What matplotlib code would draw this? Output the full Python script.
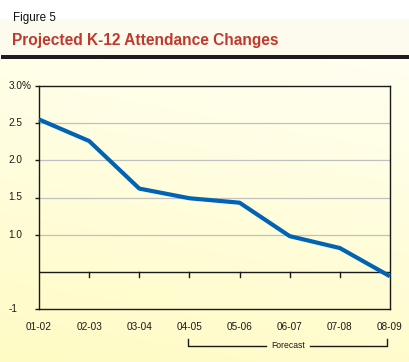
import numpy as np
import matplotlib
matplotlib.use("Agg")
import matplotlib.pyplot as plt
from matplotlib.patches import Rectangle
from matplotlib.transforms import blended_transform_factory

plt.rcParams['font.family'] = ['Liberation Sans', 'DejaVu Sans']

# Datos
years = ['01-02', '02-03', '03-04', '04-05', '05-06', '06-07', '07-08', '08-09']
changes = [2.55, 2.26, 1.62, 1.49, 1.43, 0.98, 0.82, 0.44]
ytick_vals = [0.0, 1.0, 1.5, 2.0, 2.5, 3.0]
ytick_labels = ['-1', '1.0', '1.5', '2.0', '2.5', '3.0%']
grid_vals = [1.0, 1.5, 2.0, 2.5]
zero_line = 0.5
forecast_from = '04-05'
forecast_to = '08-09'

W, H = 410, 362
fig = plt.figure(figsize=(W / 100, H / 100), dpi=100)

# Fondo: cabecera blanca/crema y degradado amarillo debajo de la barra
bg = fig.add_axes([0, 0, 1, 1], zorder=-10)
yy, xx = np.mgrid[0:1:200j, 0:1:200j]
t = np.clip(yy * 0.8 + (1 - xx) * 0.2, 0, 1)
top = np.array([1.0, 1.0, 0.945])
bot = np.array([1.0, 0.985, 0.77])
img = top[None, None, :] * (1 - t[..., None]) + bot[None, None, :] * t[..., None]
bg.imshow(img, extent=[0, W, H, 59], aspect='auto')
bg.add_patch(Rectangle((0, 19), W, 36, color='#fdfbee', lw=0))
bg.add_patch(Rectangle((1, 55), W, 4, color='#231a1f', lw=0))
bg.set_xlim(0, W)
bg.set_ylim(H, 0)
bg.axis('off')

fig.text(13 / W, 1 - 18 / H, 'Figure 5', fontsize=8.4, color='#111111',
         va='center', ha='left')
fig.text(12 / W, 1 - 40 / H, 'Projected K-12 Attendance Changes', fontsize=11.2,
         fontweight='bold', color='#be3a2c', va='center', ha='left')

# Area del grafico
ax = fig.add_axes([39 / W, 1 - 309 / H, 351 / W, 223 / H])
ax.patch.set_alpha(0)
x = np.arange(len(years))
for g in grid_vals:
    ax.axhline(g, color='#c0c0c0', lw=0.9, zorder=1)
ax.axhline(zero_line, color='#1a1a1a', lw=1.0, zorder=2)
for xi in x[1:-1]:
    ax.plot([xi, xi], [zero_line, zero_line - 0.07], color='#1a1a1a', lw=1.0, zorder=2)

ax.plot(x, changes, color='#0063b4', lw=3, solid_capstyle='butt', clip_on=False, zorder=3)

ax.set_xlim(0, len(years) - 1)
ax.set_ylim(0, 3.0)
for s in ax.spines.values():
    s.set_color('#1a1a1a')
    s.set_linewidth(1.0)

ax.set_xticks([])
ax.set_yticks(ytick_vals)
ax.set_yticklabels([])
ax.tick_params(axis='y', length=3, width=1, color='#1a1a1a', direction='out')

ytr = blended_transform_factory(fig.transFigure, ax.transData)
for v, lab in zip(ytick_vals, ytick_labels):
    ax.text(8.5 / W, v, lab, transform=ytr, fontsize=7.2, color='#1a1a1a',
            ha='left', va='center')

for xi, lab in zip(x, years):
    ax.text(xi, -17.5 / 223 * 3.0, lab, fontsize=7.2, color='#1a1a1a',
            ha='center', va='center')

# Corchete de pronostico
i0, i1 = years.index(forecast_from), years.index(forecast_to)
yb = -37 / 223 * 3.0
yt = -30 / 223 * 3.0
xa, xb = i0 - 0.02, i1 - 0.06
xm = (i0 + i1) / 2 - 0.03
gap = 0.44
kw = dict(color='#1a1a1a', lw=1.0, clip_on=False)
ax.plot([xa, xa, xm - gap], [yt, yb, yb], **kw)
ax.plot([xm + gap, xb, xb], [yb, yb, yt], **kw)
ax.text(xm, yb, 'Forecast', fontsize=6.2, color='#1a1a1a', ha='center', va='center')

fig.savefig('out.png', dpi=100)
